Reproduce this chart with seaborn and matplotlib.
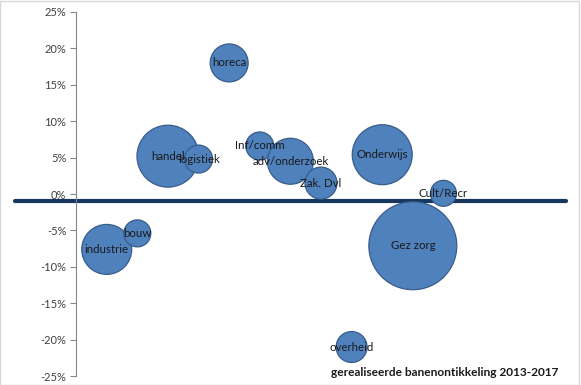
import matplotlib
matplotlib.use("Agg")
import matplotlib.pyplot as plt
import matplotlib.ticker as mtick
import seaborn as sns
import pandas as pd

# sectoren, groei 2013-2017 (%) en relatieve omvang (bubble)
sectoren = ["industrie", "bouw", "handel", "logistiek", "horeca", "Inf/comm",
            "adv/onderzoek", "Zak. Dvl", "overheid", "Onderwijs", "Gez zorg", "Cult/Recr"]
positie = [1, 2, 3, 4, 5, 6, 7, 8, 9, 10, 11, 12]
groei = [-7.6, -5.4, 5.2, 4.8, 18.0, 6.6, 4.5, 1.5, -21.0, 5.4, -7.1, 0.1]
omvang = [625, 182, 961, 196, 361, 196, 529, 256, 240, 900, 1936, 169]
gemiddeld = -0.9

df = pd.DataFrame({"sector": sectoren, "x": positie, "groei": groei, "omvang": omvang})

sns.set_style("white")
plt.rcParams['font.family'] = ['Lato', 'DejaVu Sans']

fig = plt.figure(figsize=(5.81, 3.85), dpi=100)
ax = fig.add_axes([0.131, 0.023, 0.843, 0.946])

# radius in px -> s in pt^2 : (2*r*0.72)^2 = 2.07*r^2
sns.scatterplot(data=df, x="x", y="groei", size="omvang",
                sizes=(0, 2.07 * 1936), size_norm=(0, 1936),
                color="#4F81BD", edgecolor="#385D8A", linewidth=0.9,
                alpha=1, legend=False, ax=ax, zorder=3)

for _, r in df.iterrows():
    ax.text(r["x"], r["groei"], r["sector"], ha="center", va="center",
            fontsize=8.3, color="#1a1a1a", zorder=4)

ax.plot([-2, 16], [gemiddeld, gemiddeld], color="#17375E", linewidth=3,
        clip_on=False, zorder=2)

ax.set_xlim(0, 16)
ax.set_ylim(-25, 25)
ax.yaxis.set_major_locator(mtick.MultipleLocator(5))
ax.yaxis.set_major_formatter(mtick.FuncFormatter(lambda v, p: f"{v:.0f}%"))
ax.set_xticks([])
ax.set_xlabel("")
ax.set_ylabel("")
for s in ["top", "right", "bottom"]:
    ax.spines[s].set_visible(False)
ax.spines["left"].set_color("#868686")
ax.spines["left"].set_linewidth(0.8)
ax.tick_params(axis="y", direction="out", length=4, width=0.8, color="#868686",
               labelsize=8, labelcolor="#404040", left=True, pad=3)

fig.text(0.961, 0.032, "gerealiseerde banenontikkeling 2013-2017", ha="right",
         va="center", fontsize=8.6, fontweight="bold", color="#1a1a1a")

# light frame like the original chart area
fig.patches.append(plt.Rectangle((0, 0), 0.997, 0.997, transform=fig.transFigure,
                                 fill=False, edgecolor="#D9D9D9", linewidth=1))

fig.savefig("out.png", dpi=100)
